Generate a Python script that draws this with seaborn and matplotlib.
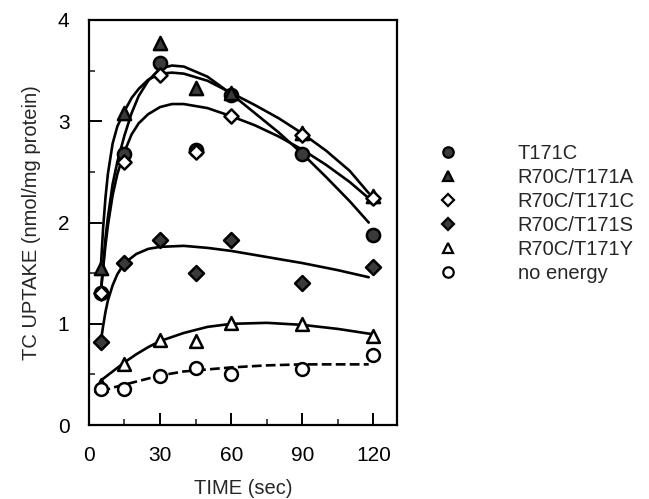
import numpy as np
import pandas as pd
import matplotlib
matplotlib.use("Agg")
import matplotlib.pyplot as plt
from matplotlib.lines import Line2D
import seaborn as sns

# ---- data ----
time_pts = [5, 15, 30, 45, 60, 90, 120]
t171c = [1.30, 2.68, 3.58, 2.72, 3.26, 2.68, 1.88]
r70c_t171a = [1.55, 3.08, 3.77, 3.33, 3.28, 2.88, 2.26]
r70c_t171c = [1.30, 2.60, 3.46, 2.70, 3.05, 2.86, 2.24]
r70c_t171s = [0.82, 1.60, 1.83, 1.50, 1.83, 1.40, 1.56]
r70c_t171y = [0.40, 0.60, 0.84, 0.83, 1.01, 1.00, 0.88]
no_energy = [0.36, 0.36, 0.49, 0.56, 0.50, 0.55, 0.69]

# fitted curves as drawn in the reference (read values)
fit_t = [5, 6, 7, 8, 10, 12, 15, 18, 21, 25, 30, 35, 40, 50, 60, 70, 80, 90, 100, 110, 118]
fit_t171c = [1.30, 1.58, 1.85, 2.05, 2.38, 2.60, 2.86, 3.08, 3.25, 3.40, 3.52, 3.55, 3.54, 3.44, 3.27, 3.08, 2.89, 2.68, 2.45, 2.21, 2.00]
fit_t171a = [1.55, 1.95, 2.25, 2.48, 2.78, 2.95, 3.10, 3.23, 3.32, 3.41, 3.47, 3.48, 3.47, 3.40, 3.28, 3.16, 3.03, 2.88, 2.71, 2.51, 2.29]
fit_t171c2 = [1.30, 1.55, 1.78, 1.97, 2.27, 2.48, 2.70, 2.87, 2.98, 3.07, 3.14, 3.17, 3.17, 3.13, 3.05, 2.96, 2.85, 2.72, 2.57, 2.40, 2.24]
fit_t171s_t = [5, 6, 7, 8, 10, 12, 15, 20, 25, 30, 40, 50, 60, 75, 90, 105, 118]
fit_t171s = [0.82, 0.98, 1.12, 1.23, 1.38, 1.49, 1.60, 1.69, 1.74, 1.76, 1.77, 1.75, 1.72, 1.66, 1.60, 1.53, 1.46]
fit_t171y_t = [5, 10, 15, 20, 25, 30, 40, 50, 60, 75, 90, 105, 119]
fit_t171y = [0.44, 0.53, 0.62, 0.70, 0.77, 0.83, 0.91, 0.97, 1.00, 1.01, 0.99, 0.95, 0.90]
fit_none_t = [5, 10, 20, 30, 40, 50, 60, 75, 90, 105, 118]
fit_none = [0.33, 0.37, 0.43, 0.49, 0.53, 0.55, 0.57, 0.59, 0.60, 0.60, 0.60]

series_names = ["T171C", "R70C/T171A", "R70C/T171C", "R70C/T171S", "R70C/T171Y", "no energy"]
x_ticks = [0, 30, 60, 90, 120]
y_ticks = [0, 1, 2, 3, 4]

# ---- build tables ----
point_vals = [t171c, r70c_t171a, r70c_t171c, r70c_t171s, r70c_t171y, no_energy]
pts = pd.DataFrame({
    "time": np.tile(time_pts, len(series_names)),
    "uptake": np.concatenate(point_vals),
    "series": np.repeat(series_names, len(time_pts)),
})

fits = [
    (fit_t, fit_t171c, "-"),
    (fit_t, fit_t171a, "-"),
    (fit_t, fit_t171c2, "-"),
    (fit_t171s_t, fit_t171s, "-"),
    (fit_t171y_t, fit_t171y, "-"),
    (fit_none_t, fit_none, "--"),
]

sns.set_theme(style="ticks")
plt.rcParams["font.family"] = ["Liberation Sans", "DejaVu Sans"]

fig = plt.figure(figsize=(6.49, 4.99), dpi=100)
ax = fig.add_axes([0.137, 0.148, 0.475, 0.812])

# curves
for (ft, fy, ls) in fits:
    sns.lineplot(x=ft, y=fy, ax=ax, color="black", lw=1.9, linestyle=ls,
                 sort=False, estimator=None, legend=False,
                 dashes=(3, 2.2) if ls == "--" else "")

# markers
styles = {
    "T171C": dict(marker="o", facecolor="#3a3a3a", s=90),
    "R70C/T171A": dict(marker="^", facecolor="#3a3a3a", s=90),
    "R70C/T171C": dict(marker="D", facecolor="white", s=52),
    "R70C/T171S": dict(marker="D", facecolor="#3a3a3a", s=58),
    "R70C/T171Y": dict(marker="^", facecolor="white", s=85),
    "no energy": dict(marker="o", facecolor="white", s=85),
}
for name in series_names:
    st = styles[name]
    sub = pts[pts["series"] == name]
    sns.scatterplot(data=sub, x="time", y="uptake", ax=ax, marker=st["marker"],
                    s=st["s"], color=st["facecolor"], edgecolor="black",
                    linewidth=1.8, zorder=5, legend=False)

ax.set_xlim(0, 130)
ax.set_ylim(0, 4.0)
ax.set_xticks(x_ticks)
ax.set_yticks(y_ticks)
ax.set_xticks([15, 45, 75, 105], minor=True)
ax.set_yticks([0.5, 1.5, 2.5, 3.5], minor=True)
ax.tick_params(axis="both", which="major", direction="in", length=9, width=1.4,
               labelsize=15, colors="black")
ax.tick_params(axis="y", which="major", pad=14)
ax.tick_params(axis="x", which="major", pad=15)
ax.tick_params(axis="both", which="minor", direction="in", length=4, width=1.2)
for sp in ax.spines.values():
    sp.set_linewidth(1.6)
    sp.set_color("black")
ax.set_xlabel("TIME (sec)", fontsize=14.5, labelpad=10)
ax.set_ylabel("TC UPTAKE (nmol/mg protein)", fontsize=14.5, labelpad=12)

# legend
handles = []
for name in series_names:
    st = styles[name]
    handles.append(Line2D([], [], linestyle="none", marker=st["marker"],
                          markersize=7.5 if st["marker"] != "D" else 6.5,
                          markerfacecolor=st["facecolor"], markeredgecolor="black",
                          markeredgewidth=1.6))
ax.legend(handles, series_names, loc="upper left", bbox_to_anchor=(0.675, 0.711),
          bbox_transform=fig.transFigure, frameon=False, fontsize=14.5,
          handlelength=1.0, handletextpad=2.95, labelspacing=0.25, borderpad=0,
          borderaxespad=0)

fig.savefig("out.png", dpi=100)
